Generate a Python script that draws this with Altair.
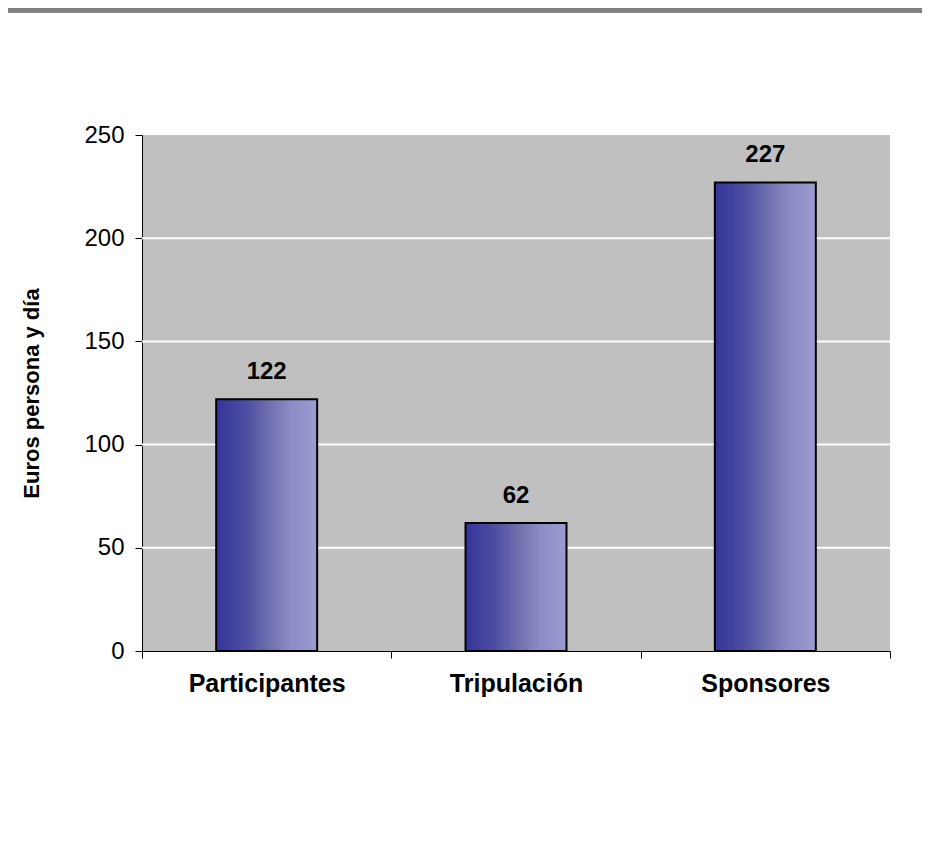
import altair as alt
import pandas as pd

categories = ["Participantes", "Tripulación", "Sponsores"]
values = [122, 62, 227]
grid_values = [50, 100, 150, 200]
y_ticks = [0, 50, 100, 150, 200, 250]

df = pd.DataFrame({"cat": categories, "val": values})
gdf = pd.DataFrame({"g": grid_values})

FONT = "Liberation Sans"

x_enc = alt.X("cat:N", sort=categories,
              scale=alt.Scale(paddingInner=0, paddingOuter=0),
              axis=alt.Axis(title=None, labelAngle=0, labelFont=FONT, labelFontSize=25,
                            labelFontWeight="bold", labelColor="black", labelPadding=13,
                            domainColor="black", domainWidth=1, tickColor="black",
                            tickSize=7, tickBand="extent", grid=False))
y_scale = alt.Scale(domain=[0, 250], nice=False)

gradient = alt.Gradient(
    gradient="linear", x1=0, x2=1, y1=0, y2=0,
    stops=[alt.GradientStop(color="#34349a", offset=0),
           alt.GradientStop(color="#4e4ea2", offset=0.3),
           alt.GradientStop(color="#7373b0", offset=0.55),
           alt.GradientStop(color="#8c8cc6", offset=0.75),
           alt.GradientStop(color="#9c9cd0", offset=1)])

grid = alt.Chart(gdf).mark_rule(color="white", strokeWidth=2).encode(
    y=alt.Y("g:Q", scale=y_scale)
)

bars = alt.Chart(df).mark_bar(color=gradient, stroke="black", strokeWidth=2,
                              width=alt.RelativeBandSize(0.405)).encode(
    x=x_enc,
    y=alt.Y("val:Q", scale=y_scale,
            axis=alt.Axis(values=y_ticks, title="Euros persona y día", grid=False,
                          labelFont=FONT, labelFontSize=24, labelColor="black",
                          labelPadding=11, tickSize=7, tickColor="black",
                          domainColor="black", titleFont=FONT, titleFontSize=22,
                          titleFontWeight="bold", titleColor="black", titlePadding=40))
)

labels = alt.Chart(df).mark_text(font=FONT, fontSize=24, fontWeight="bold",
                                 color="black", baseline="alphabetic", dy=-20).encode(
    x=alt.X("cat:N", sort=categories),
    y=alt.Y("val:Q", scale=y_scale),
    text="val:Q"
)

band = alt.Chart(gdf).mark_rule(color="#808080", strokeWidth=5).encode(
    x=alt.value(-142), x2=alt.value(800), y=alt.value(-125)
)

chart = alt.layer(grid, bars, labels, band).properties(
    width=748, height=516,
    background="white",
    autosize=alt.AutoSizeParams(type="none"),
    padding={"left": 134, "top": 127, "right": 32, "bottom": 209},
).configure_view(fill="#c0c0c0", stroke=None)

chart.save("out.html", embed_options={"renderer": "svg", "actions": False})
